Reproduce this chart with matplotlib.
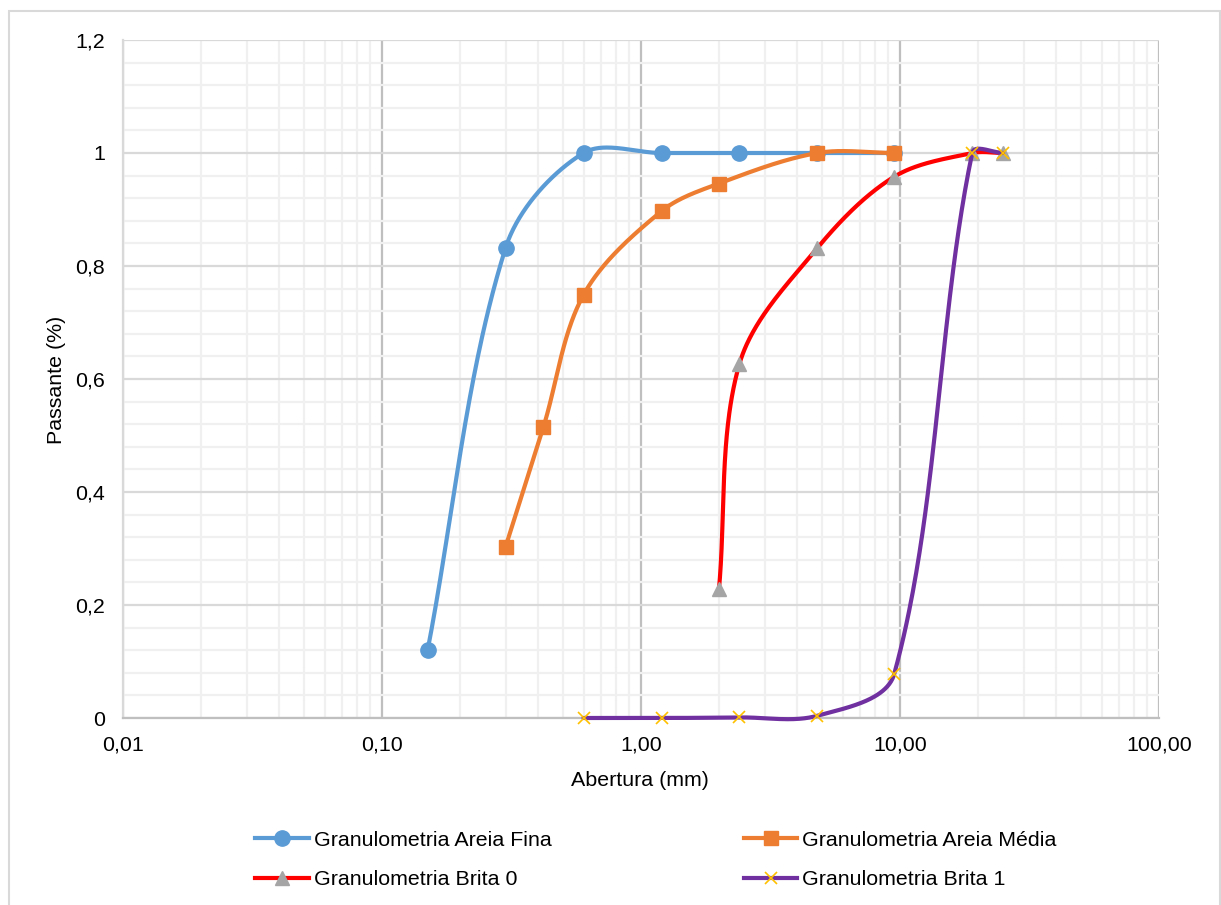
import numpy as np
import matplotlib
matplotlib.use("Agg")
import matplotlib.pyplot as plt
import matplotlib.lines as mlines
import matplotlib.patches as mpatches
from matplotlib.ticker import FixedLocator, NullFormatter

plt.rcParams["font.family"] = ["Liberation Sans", "DejaVu Sans"]

# ---------------------------------------------------------------------------
# Data (sieve opening in mm, fraction passing)
# ---------------------------------------------------------------------------
fina_x = [0.15, 0.3, 0.6, 1.2, 2.4, 4.8, 9.5]
fina_y = [0.12, 0.832, 1.0, 1.0, 1.0, 1.0, 1.0]

media_x = [0.3, 0.42, 0.6, 1.2, 2.0, 4.8, 9.5]
media_y = [0.303, 0.515, 0.749, 0.897, 0.946, 1.0, 1.0]

brita0_x = [2.0, 2.4, 4.8, 9.5, 19.0, 25.0]
brita0_y = [0.228, 0.627, 0.832, 0.958, 1.0, 1.0]

brita1_x = [0.6, 1.2, 2.4, 4.8, 9.5, 19.0, 25.0]
brita1_y = [0.0, 0.0, 0.001, 0.004, 0.078, 1.0, 1.0]

labels = ["Granulometria Areia Fina", "Granulometria Areia Média",
          "Granulometria Brita 0", "Granulometria Brita 1"]

x_ticks = [0.01, 0.1, 1, 10, 100]
x_ticklabels = ["0,01", "0,10", "1,00", "10,00", "100,00"]
y_ticks = [0, 0.2, 0.4, 0.6, 0.8, 1.0, 1.2]
y_ticklabels = ["0", "0,2", "0,4", "0,6", "0,8", "1", "1,2"]

# line colour, marker, marker face, marker edge, marker size
STYLES = [
    ("#5b9bd5", "o", "#5b9bd5", "#5b9bd5", 11),
    ("#ed7d31", "s", "#ed7d31", "#ed7d31", 10),
    ("#ff0000", "^", "#a5a5a5", "#a5a5a5", 10.5),
    ("#7030a0", "x", "#ffc000", "#ffc000", 9),
]

FS = 15.4
PX_DECADE = 259.25   # screen pixels per decade on x
PX_UNIT = 565.0      # screen pixels per unit on y


def smooth(xs, ys, n=80):
    """Excel-like smoothed line: Bezier segments with tangents parallel to
    the neighbour chord, scaled by segment lengths (computed in screen space)."""
    P = np.column_stack([np.log10(np.asarray(xs, float)) * PX_DECADE,
                         np.asarray(ys, float) * PX_UNIT])
    P = np.vstack([P[0], P, P[-1]])
    t = np.linspace(0, 1, n)[:, None]
    out = []
    for i in range(1, len(P) - 2):
        p0, p1, p2, p3 = P[i - 1], P[i], P[i + 1], P[i + 2]
        d01 = np.hypot(*(p1 - p0))
        d12 = np.hypot(*(p2 - p1))
        d23 = np.hypot(*(p3 - p2))
        c1 = p1 + (p2 - p0) * (d12 / (d01 + d12)) / 3.0
        c2 = p2 - (p3 - p1) * (d12 / (d12 + d23)) / 3.0
        seg = ((1 - t) ** 3) * p1 + 3 * ((1 - t) ** 2) * t * c1 \
            + 3 * (1 - t) * t ** 2 * c2 + t ** 3 * p2
        out.append(seg)
    seg = np.vstack(out)
    return 10 ** (seg[:, 0] / PX_DECADE), seg[:, 1] / PX_UNIT


fig = plt.figure(figsize=(12.21, 9.05), dpi=100)
ax = fig.add_axes([123 / 1221, 1 - 718 / 905, (1159 - 123) / 1221, (718 - 40) / 905])

series = [(fina_x, fina_y), (media_x, media_y), (brita0_x, brita0_y), (brita1_x, brita1_y)]
handles = []
for k, ((xs, ys), (lc, mk, mf, me, ms), lab) in enumerate(zip(series, STYLES, labels)):
    sx, sy = smooth(xs, ys)
    ax.plot(sx, sy, color=lc, linewidth=3, solid_capstyle="round",
            zorder=3 + 2 * k, clip_on=False)
    mew = 1.2 if mk == "x" else 1
    ax.plot(xs, ys, linestyle="none", marker=mk, markersize=ms,
            markerfacecolor=mf, markeredgecolor=me, markeredgewidth=mew,
            zorder=4 + 2 * k, clip_on=False)
    handles.append(mlines.Line2D([], [], color=lc, linewidth=3, marker=mk,
                                 markersize=ms, markerfacecolor=mf,
                                 markeredgecolor=me, markeredgewidth=mew,
                                 label=lab))

ax.set_xscale("log")
ax.set_xlim(0.01, 100)
ax.set_ylim(0, 1.2)

ax.xaxis.set_major_locator(FixedLocator(x_ticks))
ax.set_xticklabels(x_ticklabels)
minor_x = [m * 10.0 ** d for d in range(-2, 2) for m in range(2, 10)]
ax.xaxis.set_minor_locator(FixedLocator(minor_x))
ax.xaxis.set_minor_formatter(NullFormatter())
ax.set_yticks(y_ticks)
ax.set_yticklabels(y_ticklabels)
ax.yaxis.set_minor_locator(FixedLocator(np.arange(0, 1.2001, 0.04)))

ax.tick_params(which="both", length=0)
ax.tick_params(axis="x", pad=12.5, labelsize=FS)
ax.tick_params(axis="y", pad=13, labelsize=FS)

ax.grid(which="minor", color="#f0f0f0", linewidth=1.6, zorder=0)
ax.grid(which="major", axis="y", color="#d9d9d9", linewidth=1.6, zorder=1)
ax.grid(which="major", axis="x", color="#bfbfbf", linewidth=1.6, zorder=1)
ax.set_axisbelow(True)

for side in ("top", "right"):
    ax.spines[side].set_visible(False)
ax.spines["left"].set_color("#d9d9d9")
ax.spines["left"].set_linewidth(1.6)
ax.spines["bottom"].set_color("#bfbfbf")
ax.spines["bottom"].set_linewidth(1.6)

fig.text(640 / 1221, 1 - 780 / 905, "Abertura (mm)", ha="center", va="center", fontsize=FS)
fig.text(57 / 1221, 1 - 380 / 905, "Passante (%)", ha="center", va="center",
         rotation=90, fontsize=FS)

# row-major legend order like the reference (2 columns)
leg_order = [handles[0], handles[2], handles[1], handles[3]]
fig.legend(handles=leg_order, loc="center", ncol=2, frameon=False, fontsize=FS,
           bbox_to_anchor=(656 / 1221, 1 - 860 / 905), handlelength=2.5,
           handletextpad=0.23, columnspacing=9.0, labelspacing=0.95)

# outer chart border
fig.patches.append(mpatches.Rectangle((9 / 1221, -0.01), (1220 - 9) / 1221, 1 - 11 / 905 + 0.01,
                                      transform=fig.transFigure, fill=False,
                                      edgecolor="#d9d9d9", linewidth=1.5))

fig.savefig("out.png", dpi=100)
